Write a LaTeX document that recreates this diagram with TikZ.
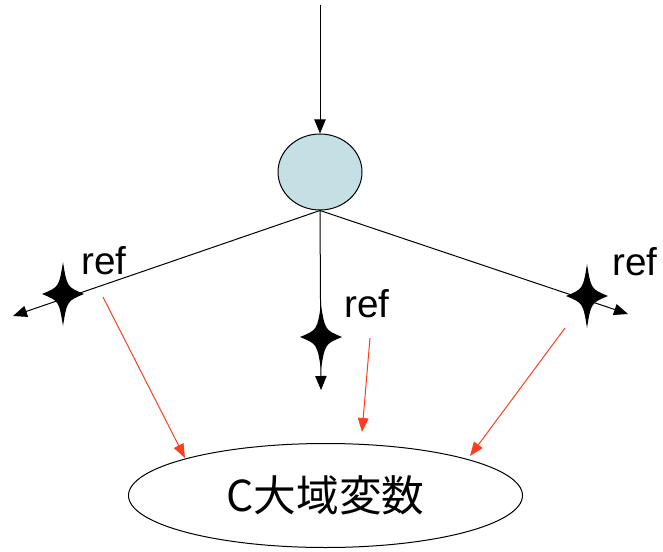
\documentclass[tikz,border=0pt]{standalone}
\usepackage{fontspec}
\setmainfont{Liberation Sans}
\newfontfamily\cjk{Noto Sans CJK JP}
\usetikzlibrary{arrows.meta,shapes.geometric}
\definecolor{nodeblue}{RGB}{197,224,228}
\definecolor{refred}{RGB}{255,61,31}

\begin{document}
\begin{tikzpicture}[x=0.75pt,y=-0.75pt,
  every node/.style={font=\fontsize{29}{34}\selectfont},
  tip/.style={line width=0.75pt,-{Triangle[length=10.5pt,width=8.5pt]}},
  reftip/.style={refred,line width=0.75pt,-{Triangle[length=10.5pt,width=8pt]}},
  sparkle/.pic={\fill[black] (0,-32) .. controls (4,-7) .. (21,0) .. controls (4,7) .. (0,32) .. controls (-4,7) .. (-21,0) .. controls (-4,-7) .. cycle;}]
\useasboundingbox (0,0) rectangle (663,552);
% call node and its three branches
\coordinate (top) at (320,5);
\node[draw,ellipse,fill=nodeblue,line width=0.75pt,minimum width=63pt,minimum height=57pt,inner sep=0pt] (call) at (320,172) {};
\coordinate (endL) at (13,316);
\coordinate (endM) at (321,390);
\coordinate (endR) at (628,314);
\draw[tip] (top) -- (call.north);
\draw[tip] (call.south) -- (endL);
\draw[tip] (call.south) -- (endM);
\draw[tip] (call.south) -- (endR);
\pic at (63,294) {sparkle};
\pic at (321,337) {sparkle};
\pic at (587,296) {sparkle};
\node (refL) at (104,261) {ref};
\node (refM) at (367,304) {ref};
\node (refR) at (635,262) {ref};
% global variable
\node[draw,ellipse,line width=0.75pt,minimum width=295.5pt,minimum height=78pt,inner sep=0pt,font=\cjk\fontsize{32}{37}\selectfont] (gvar) at (325.5,495.5) {C大域変数};
\coordinate (fromL) at (103,297);
\coordinate (fromM) at (370,338);
\coordinate (fromR) at (565,328);
\coordinate (toL) at (185,458);
\coordinate (toM) at (362,432);
\coordinate (toR) at (470,456);
\draw[reftip] (fromL) -- (toL);
\draw[reftip] (fromM) -- (toM);
\draw[reftip] (fromR) -- (toR);
\end{tikzpicture}
\end{document}
